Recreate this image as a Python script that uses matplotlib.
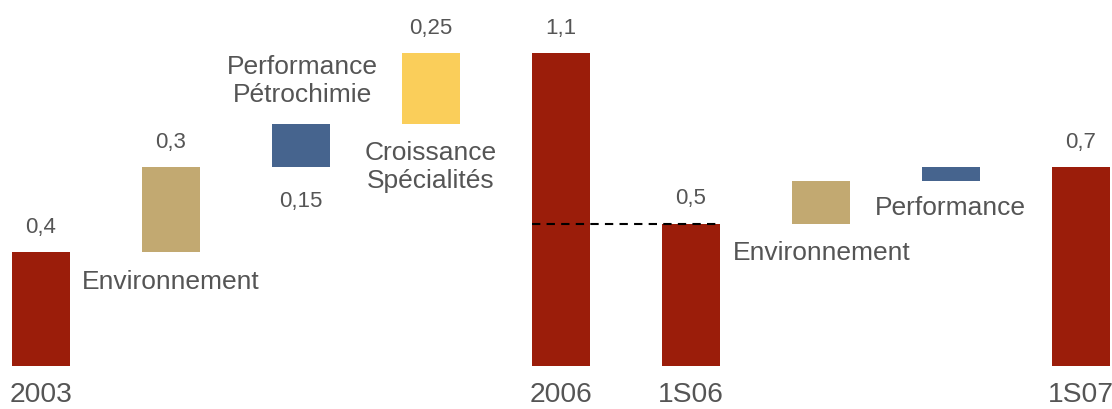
import numpy as np
import matplotlib.pyplot as plt

plt.rcParams['font.family'] = ['Liberation Sans', 'DejaVu Sans']

# waterfall steps: "total" bars start at zero, "delta" bars stack on the running total
steps = ["2003", "Environnement", "Performance Pétrochimie", "Croissance Spécialités",
         "2006", "1S06", "Environnement", "Performance", "1S07"]
kinds = ["total", "delta", "delta", "delta", "total", "total", "delta", "delta", "total"]
values = [0.4, 0.3, 0.15, 0.25, 1.1, 0.5, 0.15, 0.05, 0.7]
value_labels = ["0,4", "0,3", "0,15", "0,25", "1,1", "0,5", "", "", "0,7"]
colors = ["#9B1D0A", "#C2A971", "#46648E", "#FACE5A", "#9B1D0A",
          "#9B1D0A", "#C2A971", "#46648E", "#9B1D0A"]

TEXT = "#555555"

bottoms = []
running = 0.0
for k, v in zip(kinds, values):
    if k == "total":
        bottoms.append(0.0)
        running = v
    else:
        bottoms.append(running)
        running += v
bottoms = np.array(bottoms)
tops = bottoms + np.array(values)

fig = plt.figure(figsize=(11.12, 4.09), dpi=100)
ax = fig.add_axes([0, 0, 1, 1])
ax.set_xlim(-0.312, 8.24)
ax.set_ylim(-0.153, 1.287)
ax.axis("off")

x = np.arange(len(steps))
w = 0.446
ax.bar(x, values, bottom=bottoms, width=w, color=colors, linewidth=0)

# value labels above bars (the blue one sits below its bar)
for i, lab in enumerate(value_labels):
    if not lab:
        continue
    if i == 2:
        ax.annotate(lab, (x[i], bottoms[i]), xytext=(0, -28.8), textcoords="offset points",
                    ha="center", va="baseline", fontsize=16, color=TEXT)
    else:
        ax.annotate(lab, (x[i], tops[i]), xytext=(0, 13.8), textcoords="offset points",
                    ha="center", va="baseline", fontsize=16, color=TEXT)

# category labels under totals
for i, k in enumerate(kinds):
    if k == "total":
        ax.text(x[i], -0.129, steps[i], ha="center", va="baseline", fontsize=20.3, color=TEXT)

# side labels for the deltas
ax.annotate("Environnement", (x[1], bottoms[1]), xytext=(-64, -26.9), textcoords="offset points",
            ha="left", va="baseline", fontsize=19, color=TEXT)
ax.annotate("Performance\nPétrochimie", (x[2], tops[2]), xytext=(1.5, 31), textcoords="offset points",
            ha="center", va="center", fontsize=19, color=TEXT, linespacing=1.18)
ax.annotate("Croissance\nSpécialités", (x[3], bottoms[3]), xytext=(0, -31), textcoords="offset points",
            ha="center", va="center", fontsize=19, color=TEXT, linespacing=1.18)
ax.annotate("Environnement", (x[6], bottoms[6]), xytext=(-63, -26.3), textcoords="offset points",
            ha="left", va="baseline", fontsize=19, color=TEXT)
ax.annotate("Performance", (x[7], bottoms[7]), xytext=(-55, -24.5), textcoords="offset points",
            ha="left", va="baseline", fontsize=19, color=TEXT)

# dashed reference line from 2006 to 1S06 at the 1S06 level
ax.plot([x[4] - w / 2, x[5] + w / 2], [values[5], values[5]], color="black",
        lw=1.5, linestyle=(0, (4, 3)))

fig.savefig("out.png", dpi=100)
